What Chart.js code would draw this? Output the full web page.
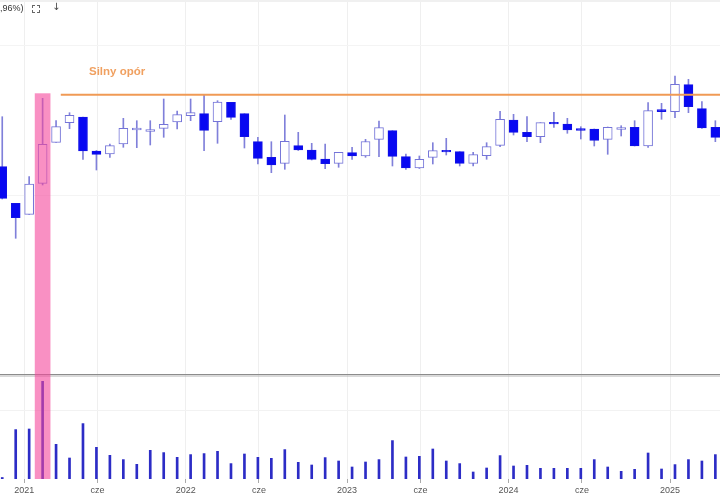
<!DOCTYPE html>
<html><head><meta charset="utf-8">
<script src="https://cdn.jsdelivr.net/npm/chart.js@4.4.1/dist/chart.umd.min.js"></script>
<style>
html,body{margin:0;padding:0;background:#fff;}
#wrap{position:relative;width:720px;height:500px;overflow:hidden;font-family:"Liberation Sans",Arial,sans-serif;}
#c{position:absolute;left:0;top:0;}
.topline{position:absolute;left:0;top:0;width:720px;height:2px;background:#f0f0f0;}
.pct{position:absolute;left:-5px;top:3px;font-size:9px;line-height:11px;color:#333;}
.fs{position:absolute;left:32px;top:5px;width:6px;height:6px;border:1px solid #666;}
.fs .h{position:absolute;left:2px;top:-2px;width:2px;height:10px;background:#fff}
.fs .v{position:absolute;left:-2px;top:2px;width:10px;height:2px;background:#fff}
.dl{position:absolute;left:52px;top:1px;font-size:10px;line-height:12px;color:#444;font-family:"DejaVu Sans",sans-serif;}
.res{position:absolute;left:89px;top:64px;font-size:11.5px;line-height:14px;font-weight:bold;color:#f0a060;}
</style></head>
<body>
<div id="wrap">
  <canvas id="c" width="720" height="500"></canvas>
  <div class="topline"></div>
  <div class="pct">0,96%)</div>
  <div class="fs"><div class="h"></div><div class="v"></div></div>
  <div class="dl">↓</div>
  <div class="res">Silny opór</div>
</div>
<script>
// ---- data (monthly candles) ----
const months = ['2020-11','2020-12',
 '2021-01','2021-02','2021-03','2021-04','2021-05','2021-06','2021-07','2021-08','2021-09','2021-10','2021-11','2021-12',
 '2022-01','2022-02','2022-03','2022-04','2022-05','2022-06','2022-07','2022-08','2022-09','2022-10','2022-11','2022-12',
 '2023-01','2023-02','2023-03','2023-04','2023-05','2023-06','2023-07','2023-08','2023-09','2023-10','2023-11','2023-12',
 '2024-01','2024-02','2024-03','2024-04','2024-05','2024-06','2024-07','2024-08','2024-09','2024-10','2024-11','2024-12',
 '2025-01','2025-02','2025-03','2025-04'];
const opens  = [31.23,27.57,26.47,29.57,33.67,35.63,36.20,32.80,32.50,33.50,34.90,34.75,35.07,35.70,36.33,36.53,35.73,37.67,36.53,33.73,32.17,31.57,33.33,32.90,32.00,31.57,32.63,32.30,33.97,34.83,32.23,31.10,32.17,32.87,32.73,31.57,32.33,33.37,35.90,34.67,34.23,35.67,35.50,35.05,35.00,33.97,34.95,35.17,33.30,36.93,36.73,39.43,37.03,35.17];
const highs  = [36.23,27.57,30.23,38.07,35.83,36.63,36.20,32.85,33.50,36.07,35.83,35.83,38.00,36.80,38.00,38.40,37.83,37.67,36.53,34.17,33.73,36.40,34.67,33.57,33.50,32.67,33.17,33.97,35.80,34.83,32.50,32.30,33.63,34.07,32.73,32.67,33.63,36.77,36.47,36.23,35.63,36.67,36.07,35.23,35.00,35.20,35.33,35.83,37.63,37.57,40.30,39.97,37.73,35.83];
const lows   = [28.00,24.07,26.47,29.40,33.67,35.03,31.97,30.90,32.17,33.17,33.13,33.40,34.17,35.00,35.83,32.83,33.57,35.97,33.10,31.50,30.63,30.97,32.85,31.90,31.03,31.17,31.97,32.17,32.23,31.30,30.97,31.05,31.50,32.40,31.30,31.30,31.97,33.23,34.40,33.73,33.63,35.17,34.57,34.00,33.30,32.47,34.30,33.30,33.17,35.97,36.13,36.63,35.05,33.73];
const closes = [28.07,26.13,29.50,33.47,35.23,36.37,32.80,32.47,33.33,35.07,35.10,34.95,35.47,36.43,36.63,34.87,37.70,36.17,34.23,32.07,31.40,33.77,32.90,31.97,31.53,32.67,32.30,33.75,35.13,32.27,31.10,31.97,32.83,32.70,31.57,32.43,33.23,35.97,34.67,34.23,35.63,35.50,34.90,34.85,33.87,35.17,35.15,33.30,36.83,36.73,39.47,37.23,35.10,34.17];
const volumes = [1.5,49.4,50.0,97.7,34.7,21.0,55.4,31.7,23.7,19.4,14.7,28.7,26.4,21.7,24.4,25.4,27.7,15.4,25.0,21.7,20.7,29.4,16.7,14.0,21.4,18.0,12.0,17.0,19.4,38.4,22.0,22.7,30.0,18.0,15.4,7.0,11.0,23.4,13.0,13.7,10.7,10.7,10.7,10.7,19.4,12.0,7.7,9.7,26.0,10.0,14.4,19.4,18.0,24.4];
const tickPositions = [1.63, 7.08, 13.63, 19.08, 25.63, 31.08, 37.63, 43.08, 49.63];
const tickLabels = ['2021','cze','2022','cze','2023','cze','2024','cze','2025'];
const resistanceLevel = 38.43;
const resistanceStart = 4.35;
const highlightIndex = 3;
const highlightTop = 38.57;

const FONT = '"Liberation Sans", Arial, sans-serif';
const isUp = k => closes[k] >= opens[k];

const decor = {
  id: 'decor',
  beforeDatasetsDraw(chart) {
    const ctx = chart.ctx, ca = chart.chartArea, yv = chart.scales.yv;
    ctx.save();
    const y1 = Math.round(yv.getPixelForValue(105.5)) + 0.5;
    ctx.strokeStyle = '#8c8c8c'; ctx.lineWidth = 1;
    ctx.beginPath(); ctx.moveTo(ca.left, y1); ctx.lineTo(ca.right, y1); ctx.stroke();
    ctx.strokeStyle = '#b4b4b4';
    ctx.beginPath(); ctx.moveTo(ca.left, y1 + 1.5); ctx.lineTo(ca.right, y1 + 1.5); ctx.stroke();
    ctx.restore();
  },
  afterDatasetsDraw(chart) {
    const ctx = chart.ctx, xs = chart.scales.x, ys = chart.scales.y, ca = chart.chartArea;
    const l = xs.getPixelForValue(highlightIndex - 0.583);
    const r = xs.getPixelForValue(highlightIndex + 0.583);
    const t = ys.getPixelForValue(highlightTop);
    ctx.save();
    ctx.fillStyle = 'rgba(245,70,155,0.6)';
    ctx.fillRect(l, t, r - l, ca.bottom - t);
    ctx.restore();
  }
};

new Chart(document.getElementById('c'), {
  type: 'bar',
  data: {
    datasets: [
      { type: 'bar', label: 'knoty', yAxisID: 'y', grouped: false, order: 4,
        data: months.map((m, k) => ({ x: k, y: [lows[k], highs[k]] })),
        barThickness: 1, backgroundColor: '#8080da' },
      { type: 'bar', label: 'świece', yAxisID: 'y', grouped: false, order: 3,
        data: months.map((m, k) => ({ x: k, y: [opens[k], closes[k]] })),
        barThickness: 9, borderWidth: 1, borderSkipped: false,
        backgroundColor: c => isUp(c.dataIndex) ? '#ffffff' : '#0808f2',
        borderColor: c => isUp(c.dataIndex) ? '#7474d8' : '#1212e6' },
      { type: 'bar', label: 'wolumen', yAxisID: 'yv', grouped: false, order: 3,
        data: months.map((m, k) => ({ x: k, y: volumes[k] })),
        barThickness: 2, backgroundColor: '#2c2cc6' },
      { type: 'line', label: 'Silny opór', yAxisID: 'y', order: 1,
        data: [{ x: resistanceStart, y: resistanceLevel }, { x: 53.4, y: resistanceLevel }],
        borderColor: '#f09a55', borderWidth: 2, pointRadius: 0, fill: false }
    ]
  },
  options: {
    responsive: false, animation: false, events: [],
    layout: { padding: 0 },
    plugins: { legend: { display: false }, tooltip: { enabled: false } },
    scales: {
      x: { type: 'linear', min: -0.167, max: 53.345, offset: false,
        afterBuildTicks: s => { s.ticks = tickPositions.map(v => ({ value: v })); },
        afterFit: s => { s.height = 21; },
        ticks: { callback: (v, i) => tickLabels[i], autoSkip: false, maxRotation: 0,
                 font: { size: 9, family: FONT }, color: '#555', padding: 2 },
        grid: { offset: false, color: '#efefef', tickColor: '#aaaaaa', tickLength: 4 },
        border: { display: false } },
      y: { type: 'linear', position: 'left', min: 0, max: 47.9,
        afterBuildTicks: s => { s.ticks = [28.3, 43.4].map(v => ({ value: v })); },
        afterFit: s => { s.width = 0; },
        ticks: { display: false }, grid: { color: '#f4f4f4', drawTicks: false },
        border: { display: false } },
      yv: { type: 'linear', position: 'right', min: 0, max: 479,
        afterBuildTicks: s => { s.ticks = [{ value: 69 }]; },
        afterFit: s => { s.width = 0; },
        ticks: { display: false }, grid: { color: '#f2f2f2', drawTicks: false },
        border: { display: false } }
    }
  },
  plugins: [decor]
});
</script>
</body></html>
